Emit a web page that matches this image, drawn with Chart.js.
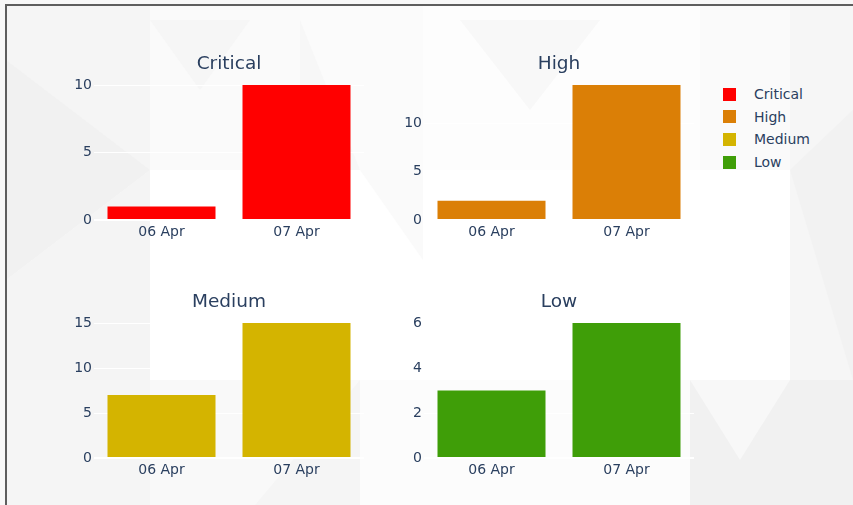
<!DOCTYPE html>
<html>
<head>
<meta charset="utf-8">
<script src="https://cdn.jsdelivr.net/npm/chart.js@4.4.1/dist/chart.umd.min.js"></script>
<style>
html,body{margin:0;padding:0;width:853px;height:505px;overflow:hidden;background:#ffffff;font-family:"DejaVu Sans",sans-serif;}
#bg{position:absolute;left:0;top:0;}
.c{position:absolute;}
.sw{position:absolute;width:13px;height:13px;}
.lt{position:absolute;font:14px "DejaVu Sans",sans-serif;color:#2a3f5f;line-height:16px;white-space:nowrap;}
</style>
</head>
<body>
<svg id="bg" width="853" height="505" xmlns="http://www.w3.org/2000/svg">
  <rect x="0" y="0" width="853" height="505" fill="#f8f8f8"/>
  <!-- left column -->
  <polygon points="6,5 150,5 150,170 6,60" fill="#f5f5f5"/>
  <polygon points="6,60 150,170 6,280" fill="#f1f1f1"/>
  <polygon points="6,280 150,170 150,380 6,380" fill="#f4f4f4"/>
  <polygon points="6,380 150,380 6,470" fill="#f2f2f2"/>
  <!-- top middle -->
  <polygon points="150,5 300,5 300,170 150,170" fill="#fafafa"/>
  <polygon points="150,20 250,20 200,90" fill="#f6f6f6"/>
  <polygon points="300,5 423,5 423,170 300,170" fill="#fbfbfb"/>
  <polygon points="300,20 360,170 300,170" fill="#f7f7f7"/>
  <!-- middle white -->
  <rect x="150" y="170" width="640" height="210" fill="#ffffff"/>
  <polygon points="360,170 423,170 423,260" fill="#fafafa"/>
  <!-- top right -->
  <polygon points="423,5 700,5 700,170 423,170" fill="#fdfdfd"/>
  <polygon points="460,20 600,20 530,110" fill="#f8f8f8"/>
  <polygon points="700,5 790,5 790,170 700,170" fill="#fafafa"/>
  <polygon points="790,5 853,5 853,380 790,380" fill="#f6f6f6"/>
  <polygon points="790,170 853,110 853,380" fill="#f2f2f2"/>
  <!-- bottom band -->
  <polygon points="6,380 853,380 853,505 6,505" fill="#f5f5f5"/>
  <polygon points="150,380 360,380 255,505 150,505" fill="#f9f9f9"/>
  <polygon points="360,380 690,380 690,505 360,505" fill="#fcfcfc"/>
  <polygon points="690,380 853,380 853,505 690,505" fill="#f1f1f1"/>
  <polygon points="690,380 790,380 740,460" fill="#f8f8f8"/>
  <!-- frame -->
  <rect x="5" y="4" width="848" height="2" fill="#5e5e5e"/>
  <rect x="5" y="4" width="2" height="501" fill="#5e5e5e"/>
</svg>

<canvas id="c0" class="c" width="320" height="197" style="left:44px;top:53px;width:320px;height:197px"></canvas>
<canvas id="c1" class="c" width="320" height="197" style="left:374px;top:53px;width:320px;height:197px"></canvas>
<canvas id="c2" class="c" width="320" height="197" style="left:44px;top:291px;width:320px;height:197px"></canvas>
<canvas id="c3" class="c" width="320" height="197" style="left:374px;top:291px;width:320px;height:197px"></canvas>
<div id="legend"></div>

<script>
// ---- data ----
const categories = ['06 Apr', '07 Apr'];
const seriesNames = ['Critical', 'High', 'Medium', 'Low'];
const criticalValues = [1, 10];
const highValues = [2, 14];
const mediumValues = [7, 15];
const lowValues = [3, 6];
const tickSteps = [5, 5, 5, 2];
const seriesColors = ['#ff0000', '#db7f06', '#d4b400', '#3f9e08'];

const allValues = [criticalValues, highValues, mediumValues, lowValues];
const textColor = '#2a3f5f';
const fontFamily = '"DejaVu Sans", sans-serif';

function makeChart(id, idx) {
  const values = allValues[idx];
  const maxV = Math.max(...values) / 0.95;
  return new Chart(document.getElementById(id), {
    type: 'bar',
    data: {
      labels: categories,
      datasets: [{
        label: seriesNames[idx],
        data: values,
        backgroundColor: seriesColors[idx],
        borderWidth: 0,
        categoryPercentage: 1.0,
        barPercentage: 0.8
      }]
    },
    options: {
      responsive: false,
      animation: false,
      devicePixelRatio: 1,
      layout: { padding: 0 },
      plugins: {
        legend: { display: false },
        tooltip: { enabled: false },
        title: {
          display: true,
          text: seriesNames[idx],
          color: textColor,
          fullSize: false,
          font: { family: fontFamily, size: 18.5, weight: 'normal', lineHeight: '22px' },
          padding: { top: 0, bottom: 3 }
        }
      },
      scales: {
        x: {
          grid: { display: false, drawTicks: false },
          border: { display: false },
          ticks: { color: textColor, font: { family: fontFamily, size: 14 }, padding: 4, maxRotation: 0 },
          afterFit: s => { s.height = 30; }
        },
        y: {
          min: 0,
          max: maxV,
          grid: {
            color: '#ffffff',
            lineWidth: c => (c.tick && c.tick.value === 0 ? 2 : 1),
            drawTicks: false
          },
          border: { display: false },
          ticks: {
            stepSize: tickSteps[idx],
            includeBounds: false,
            color: textColor,
            font: { family: fontFamily, size: 14 },
            padding: 2
          },
          afterFit: s => { s.width = 50; }
        }
      }
    }
  });
}

['c0', 'c1', 'c2', 'c3'].forEach((id, i) => makeChart(id, i));

// ---- legend ----
const legend = document.getElementById('legend');
const legendTop = 94, legendStep = 22.7;
seriesNames.forEach((name, i) => {
  const cy = legendTop + i * legendStep;
  const sw = document.createElement('div');
  sw.className = 'sw';
  sw.style.left = '723px';
  sw.style.top = (cy - 6.5) + 'px';
  sw.style.background = seriesColors[i];
  legend.appendChild(sw);
  const t = document.createElement('div');
  t.className = 'lt';
  t.style.left = '754px';
  t.style.top = (cy - 8) + 'px';
  t.textContent = name;
  legend.appendChild(t);
});
</script>
</body>
</html>
